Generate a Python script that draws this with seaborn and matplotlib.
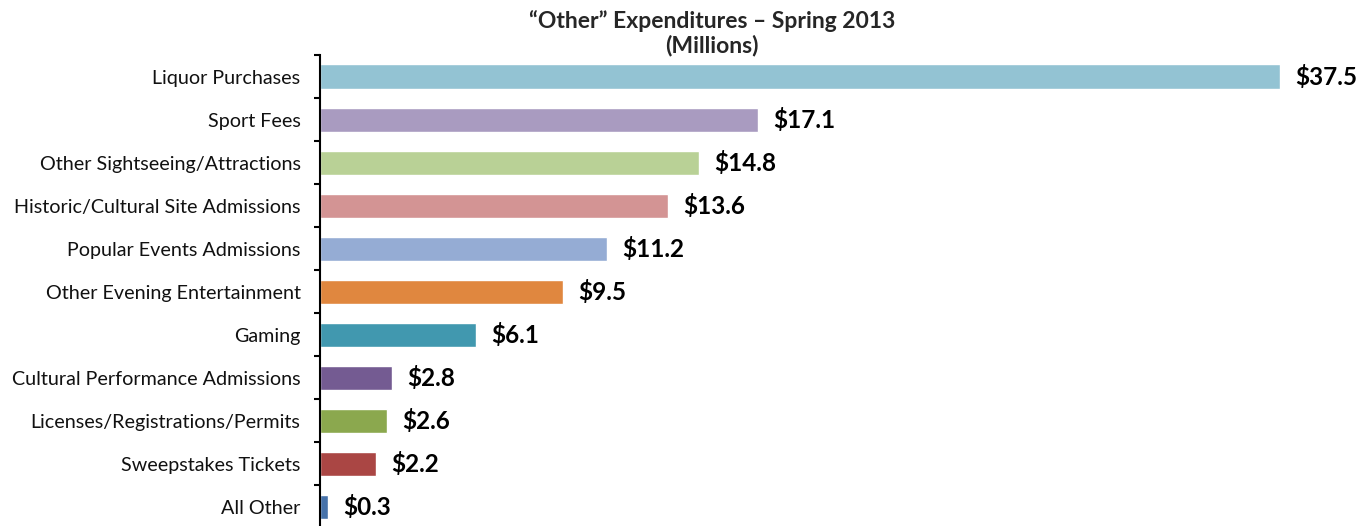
import matplotlib
matplotlib.use("Agg")
import matplotlib.pyplot as plt
import seaborn as sns
import pandas as pd
import numpy as np

categories = ["Liquor Purchases", "Sport Fees", "Other Sightseeing/Attractions",
              "Historic/Cultural Site Admissions", "Popular Events Admissions",
              "Other Evening Entertainment", "Gaming", "Cultural Performance Admissions",
              "Licenses/Registrations/Permits", "Sweepstakes Tickets", "All Other"]
values = [37.5, 17.1, 14.8, 13.6, 11.2, 9.5, 6.1, 2.8, 2.6, 2.2, 0.3]
colors = ["#93C3D3", "#A99BC0", "#B9D196", "#D39494", "#95ACD4", "#E0873F",
          "#4198AF", "#745B92", "#8BA84E", "#AA4644", "#4672AA"]

sns.set_theme(style="white")
plt.rcParams['font.family'] = ['Lato', 'DejaVu Sans']

df = pd.DataFrame({"cat": categories, "val": values})

fig = plt.figure(figsize=(13.61, 5.26), dpi=100)
ax = fig.add_axes([320/1361, -2.5/526, 960/1361, 473.5/526])
sns.barplot(data=df, y="cat", x="val", hue="cat", palette=colors, orient="h",
            width=0.56, legend=False, ax=ax, saturation=1)
ax.set_xlim(0, 37.5)
ax.set_ylim(len(categories) - 0.5, -0.5)
ax.set_xlabel("")
ax.set_ylabel("")
ax.set_xticks([])
for s in ["top", "right", "bottom"]:
    ax.spines[s].set_visible(False)
ax.spines["left"].set_color("black")
ax.spines["left"].set_linewidth(1.5)
ax.set_yticks(np.arange(len(categories)))
ax.set_yticklabels(categories, fontsize=14.2, color="#111111")
ax.tick_params(axis="y", which="major", length=0, pad=14)
ax.set_yticks(np.arange(len(categories) + 1) - 0.5, minor=True)
ax.tick_params(axis="y", which="minor", length=4, width=1.5, color="black", direction="out", left=True)

for i, v in enumerate(values):
    ax.annotate(f"${v:.1f}", xy=(v, i), xytext=(11, 0), textcoords="offset points",
                va="center", ha="left", fontsize=17.5, fontweight="bold", color="black",
                annotation_clip=False)

fig.text(712/1361, 1 - 21/526, "\u201cOther\u201d Expenditures \u2013 Spring 2013",
         ha="center", va="center", fontsize=16.5, fontweight="bold")
fig.text(712/1361, 1 - 46/526, "(Millions)", ha="center", va="center",
         fontsize=16.5, fontweight="bold")

fig.savefig("out.png", dpi=100)
